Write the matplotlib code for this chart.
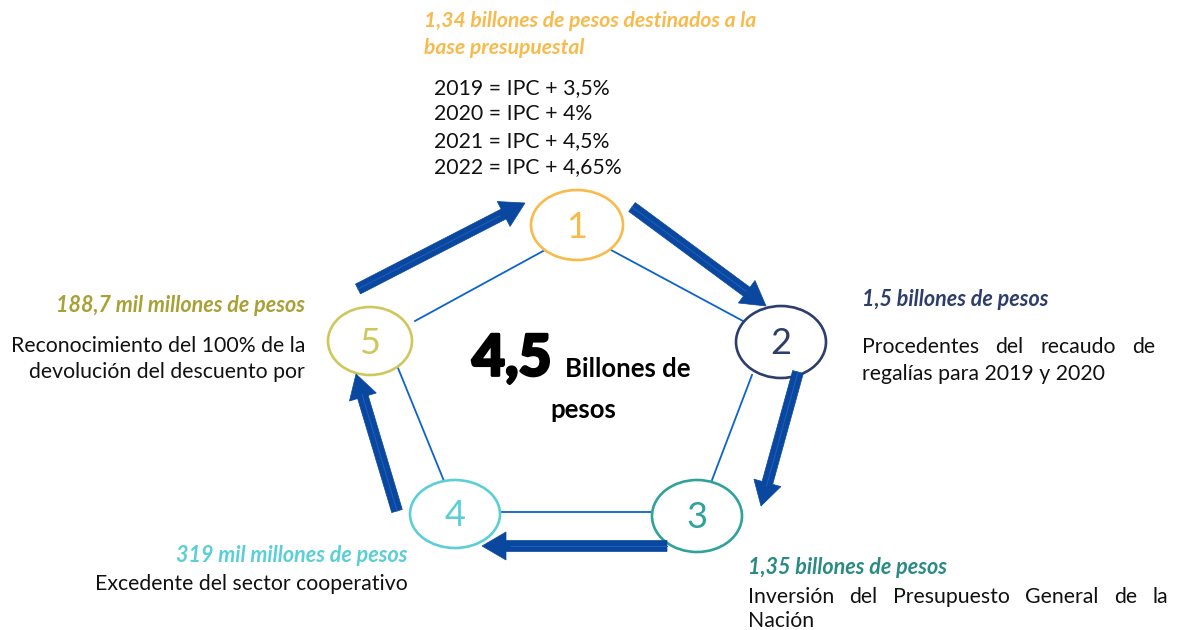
import matplotlib
matplotlib.use("Agg")

import matplotlib.pyplot as plt
import matplotlib.patheffects as pe
from matplotlib.patches import Ellipse, FancyArrow

# data
steps = ["1", "2", "3", "4", "5"]
step_colors = ["#F9BA4C", "#2D3E6C", "#2FA29A", "#5CCFD6", "#D0C75C"]
amounts = [
    "1,34 billones de pesos destinados a la\nbase presupuestal",
    "1,5 billones de pesos",
    "1,35 billones de pesos",
    "319 mil millones de pesos",
    "188,7 mil millones de pesos",
]
amount_colors = ["#F9BA4C", "#2D3E6C", "#2A8A84", "#5CCFD6", "#A9A036"]
ipc_lines = ["2019 = IPC + 3,5%", "2020 = IPC + 4%", "2021 = IPC + 4,5%", "2022 = IPC + 4,65%"]
details = [
    None,
    ["Procedentes del recaudo de", "regalías para 2019 y 2020"],
    ["Inversión del Presupuesto General de la", "Nación"],
    ["Excedente del sector cooperativo"],
    ["Reconocimiento del 100% de la", "devolución del descuento por"],
]
total = "4,5"
total_label = "Billones de"
total_label2 = "pesos"

plt.rcParams["font.family"] = ["Lato", "DejaVu Sans"]

W, H = 1179, 630
fig = plt.figure(figsize=(W / 100, H / 100), dpi=100)
ax = fig.add_axes([0, 0, 1, 1])
ax.set_xlim(0, W)
ax.set_ylim(H, 0)
ax.axis("off")

# layout (pixel coords)
centers = [(577, 225), (781, 342), (697, 516), (455, 514), (370, 341)]
sizes = [(92, 70), (90, 72), (90, 72), (90, 68), (84, 68)]

line_col = "#0B63CE"
links = [((545, 250), (415, 321)), ((611, 250), (743, 321)),
         ((752, 375), (712, 480)), ((500, 512), (652, 512)),
         ((444, 481), (398, 368))]
for (x0, y0), (x1, y1) in links:
    ax.plot([x0, x1], [y0, y1], color=line_col, lw=1.3, zorder=1)

for (cx, cy), (w, h), c, s in zip(centers, sizes, step_colors, steps):
    ax.add_patch(Ellipse((cx, cy), w, h, fill=False, ec=c, lw=1.9, zorder=2))
    ax.text(cx, cy + 2, s, color=c, fontsize=26, ha="center", va="center", zorder=3)

# thick arrows
arrow_col = "#0A479F"
arrows = [((358, 289), (525, 203)), ((632, 207), (766, 306)),
          ((798, 372), (761, 506)), ((667, 546), (482, 546)),
          ((397, 511), (356, 374))]
for (x0, y0), (x1, y1) in arrows:
    ax.add_patch(FancyArrow(x0, y0, x1 - x0, y1 - y0, width=11, head_width=28,
                            head_length=24, length_includes_head=True,
                            fc=arrow_col, ec=arrow_col, lw=0.5, zorder=4))
    ax.plot([x0, x0 + (x1 - x0) * 0.85], [y0, y0 + (y1 - y0) * 0.85],
            color="#1F5FC0", lw=0.7, zorder=5)

fig.canvas.draw()
renderer = fig.canvas.get_renderer()


def justified(x0, x1, y, line, **kw):
    words = line.split()
    objs = [ax.text(0, y, w_, va="center", ha="left", **kw) for w_ in words]
    inv = ax.transData.inverted()
    widths = []
    for t in objs:
        bb = t.get_window_extent(renderer)
        a = inv.transform((bb.x0, bb.y0))
        b = inv.transform((bb.x1, bb.y0))
        widths.append(b[0] - a[0])
    gap = (x1 - x0 - sum(widths)) / max(len(words) - 1, 1)
    x = x0
    for t, wd in zip(objs, widths):
        t.set_x(x)
        x += wd + gap


title_kw = dict(fontsize=15.5, fontweight="bold", style="italic")
body_kw = dict(fontsize=15.3, color="#111111")

# step 1
ax.text(424, 11, amounts[0], color=amount_colors[0], ha="left", va="top",
        fontsize=15.2, fontweight="bold", style="italic", linespacing=1.45)
for i, ln in enumerate(ipc_lines):
    ax.text(434, 88 + 26.3 * i, ln, ha="left", va="center", **body_kw)

# step 2
ax.text(862, 299, amounts[1], color=amount_colors[1], ha="left", va="center", **title_kw)
justified(862, 1155, 347, details[1][0], **body_kw)
ax.text(862, 374, details[1][1], ha="left", va="center", **body_kw)

# step 3
ax.text(748, 568, amounts[2], color=amount_colors[2], ha="left", va="center", **title_kw)
justified(748, 1168, 597, details[2][0], **body_kw)
ax.text(748, 621, details[2][1], ha="left", va="center", **body_kw)

# step 4
ax.text(408, 556, amounts[3], color=amount_colors[3], ha="right", va="center", **title_kw)
ax.text(408, 584, details[3][0], ha="right", va="center", **body_kw)

# step 5
ax.text(305, 306, amounts[4], color=amount_colors[4], ha="right", va="center", **title_kw)
ax.text(305, 346, details[4][0], ha="right", va="center", **body_kw)
ax.text(305, 372, details[4][1], ha="right", va="center", **body_kw)

# centre total
ax.text(472, 359, total, fontsize=41, fontweight="black", ha="left", va="center",
        path_effects=[pe.withStroke(linewidth=2, foreground="black")])
ax.text(565, 369, total_label, fontsize=18.5, fontweight="bold", ha="left", va="center")
ax.text(550, 410, total_label2, fontsize=18.5, fontweight="bold", ha="left", va="center")

fig.savefig("out.png", dpi=100)
plt.close(fig)
